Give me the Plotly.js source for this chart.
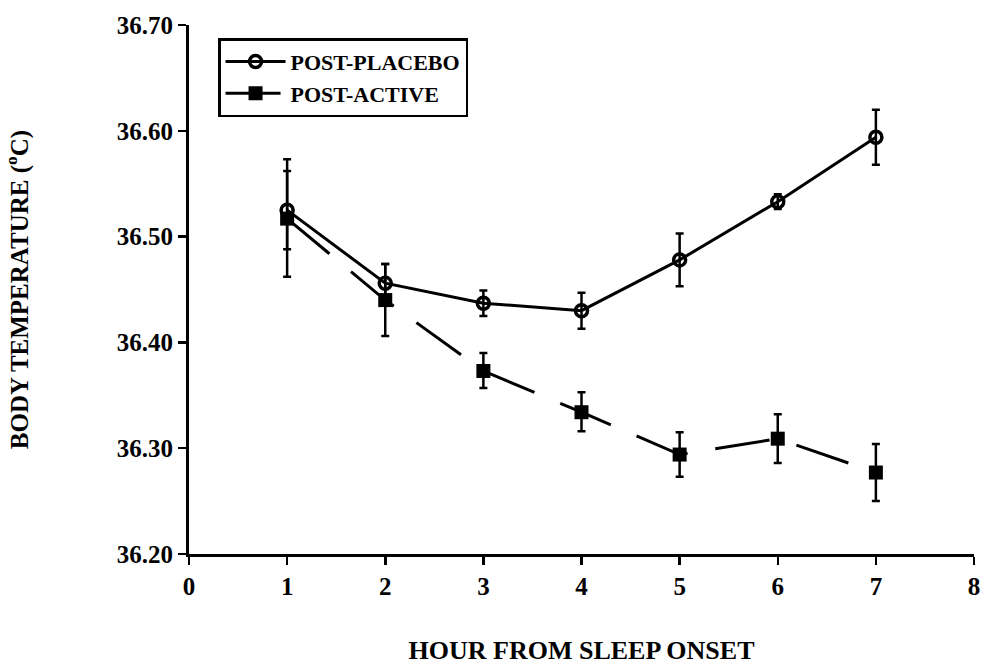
<!DOCTYPE html>
<html>
<head>
<meta charset="utf-8">
<script src="https://cdn.plot.ly/plotly-3.0.1.min.js"></script>
<style>html,body{margin:0;padding:0;background:#fff;}#chart{width:984px;height:668px;}</style>
</head>
<body>
<div id="chart"></div>
<script>
// Data
var hours = [1, 2, 3, 4, 5, 6, 7];
var placeboTemp = [36.525, 36.456, 36.437, 36.430, 36.478, 36.533, 36.594];
var placeboErr = [0.037, 0.018, 0.012, 0.017, 0.025, 0.007, 0.026];
var activeTemp = [36.517, 36.440, 36.373, 36.334, 36.294, 36.309, 36.277];
var activeErrPlus = [0.056, 0.034, 0.017, 0.019, 0.021, 0.023, 0.027];
var activeErrMinus = [0.055, 0.034, 0.016, 0.018, 0.021, 0.023, 0.027];
var seriesNames = ['POST-PLACEBO', 'POST-ACTIVE'];
var yTicks = [36.20, 36.30, 36.40, 36.50, 36.60, 36.70];
var yTickLabels = ['36.20', '36.30', '36.40', '36.50', '36.60', '36.70'];
var xTicks = [0, 1, 2, 3, 4, 5, 6, 7, 8];

var font = 'Liberation Serif, Times New Roman, serif';

var placebo = {
  x: hours, y: placeboTemp, name: seriesNames[0], type: 'scatter', mode: 'lines+markers',
  line: {color: '#000', width: 3},
  marker: {symbol: 'circle-open', size: 12, color: '#000', line: {width: 3.5, color: '#000'}},
  error_y: {type: 'data', array: placeboErr, visible: true, color: '#000', thickness: 2.5, width: 4}
};
var active = {
  x: hours, y: activeTemp, name: seriesNames[1], type: 'scatter', mode: 'lines+markers',
  line: {color: '#000', width: 3, dash: '55px,28px'},
  marker: {symbol: 'square', size: 14, color: '#000'},
  error_y: {type: 'data', symmetric: false, array: activeErrPlus, arrayminus: activeErrMinus, visible: true, color: '#000', thickness: 2.5, width: 4}
};

var layout = {
  width: 984, height: 668,
  margin: {l: 189, r: 10, t: 25, b: 114},
  paper_bgcolor: '#fff', plot_bgcolor: '#fff',
  font: {family: font, color: '#000', size: 24},
  showlegend: true,
  legend: {
    x: 0.037, y: 0.975, xanchor: 'left', yanchor: 'top',
    bordercolor: '#000', borderwidth: 2.5, bgcolor: '#fff',
    font: {family: font, size: 22, color: '#000', weight: 'bold'},
    itemwidth: 60, tracegroupgap: 0
  },
  xaxis: {
    range: [0, 8], tickvals: xTicks, ticktext: xTicks.map(String),
    showline: true, linecolor: '#000', linewidth: 3,
    ticks: 'outside', ticklen: 8, tickwidth: 2.5, tickcolor: '#000',
    showgrid: false, zeroline: false,
    tickfont: {family: font, size: 25, weight: 'bold'},
    title: {text: 'HOUR FROM SLEEP ONSET', font: {family: font, size: 26, weight: 'bold'}, standoff: 42}
  },
  yaxis: {
    range: [36.20, 36.70], tickvals: yTicks, ticktext: yTickLabels,
    showline: true, linecolor: '#000', linewidth: 3,
    ticks: 'outside', ticklen: 8, tickwidth: 2.5, tickcolor: '#000',
    showgrid: false, zeroline: false,
    tickfont: {family: font, size: 25, weight: 'bold'},
    title: {text: 'BODY TEMPERATURE (<sup>o</sup>C)', font: {family: font, size: 25, weight: 'bold'}, standoff: 82}
  },
  xaxis2: {
    overlaying: 'x', anchor: 'y', matches: 'x', range: [0, 8], tickvals: xTicks,
    showticklabels: false, ticks: 'inside', ticklen: 8, tickwidth: 2.5, tickcolor: '#000',
    showline: false, showgrid: false, zeroline: false
  },
  yaxis2: {
    overlaying: 'y', anchor: 'x', matches: 'y', range: [36.20, 36.70], tickvals: yTicks,
    showticklabels: false, ticks: 'inside', ticklen: 8, tickwidth: 2.5, tickcolor: '#000',
    showline: false, showgrid: false, zeroline: false
  }
};

Plotly.newPlot('chart', [placebo, active], layout, {displayModeBar: false, staticPlot: true});
</script>
</body>
</html>
